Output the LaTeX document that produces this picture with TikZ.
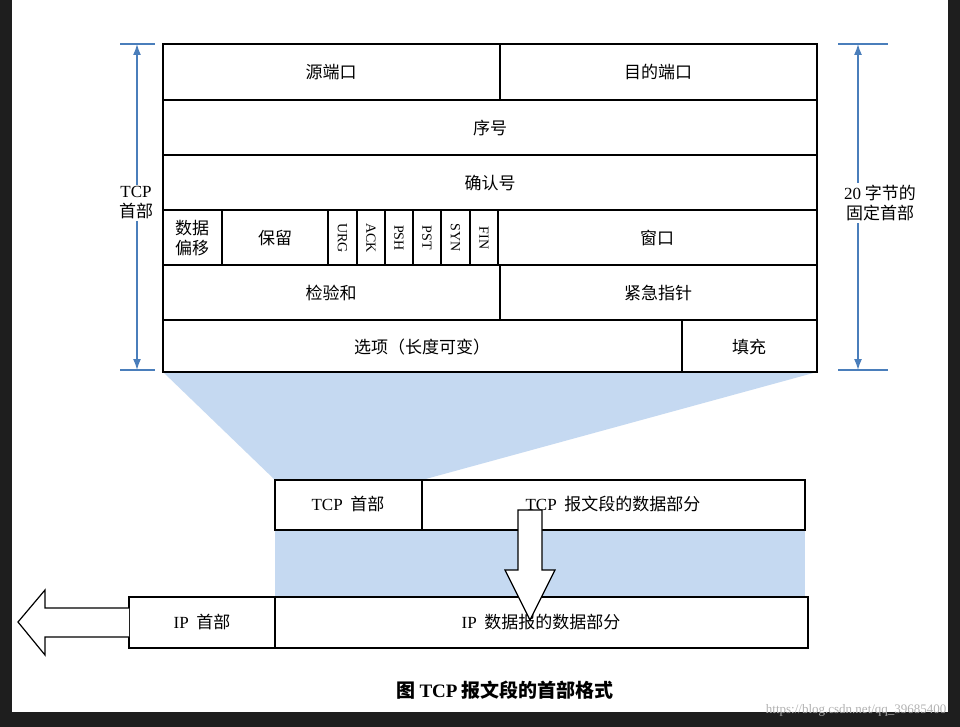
\documentclass[tikz,border=0pt]{standalone}
\usepackage{fontspec}
\usetikzlibrary{arrows.meta}
\setmainfont{Liberation Serif}
\newfontfamily\cjk{Noto Sans CJK SC}
\newcommand{\lat}[1]{{\rmfamily #1}}
\begin{document}
\begin{tikzpicture}[x=1pt,y=-1pt,
  cell/.style={draw=black,line width=1.2pt},
  lbl/.style={font=\cjk\fontsize{17}{20}\selectfont,align=center,inner sep=0},
  flag/.style={font=\fontsize{14}{16}\selectfont,rotate=-90,inner sep=0},
  dim/.style={draw=arrowblue,line width=1.5pt},
  dimtip/.style={dim,-{Latex[length=11pt,width=8pt]}},
  hollow/.style={draw=black,fill=white,line width=1.2pt}]
\definecolor{arrowblue}{HTML}{4A7EBB}
\definecolor{lightblue}{HTML}{C5D9F1}
\definecolor{bgdark}{HTML}{1E1E1E}
\useasboundingbox (0,0) rectangle (960,727);
\fill[bgdark] (0,0) rectangle (960,727);
\fill[white] (12,0) rectangle (948,712);
% blue projections
\fill[lightblue] (163,372) -- (817,372) -- (422,480) -- (275,480) -- cycle;
\fill[lightblue] (275,530) rectangle (805,597);
% table
\draw[cell] (163,44) rectangle (817,372);
\foreach \y in {100,155,210,265,320} \draw[cell] (163,\y) -- (817,\y);
\draw[cell] (500,44) -- (500,100);
\foreach \x in {222,328,357,385,413,441,470,498} \draw[cell] (\x,210) -- (\x,265);
\draw[cell] (500,265) -- (500,320);
\draw[cell] (682,320) -- (682,372);
\node[lbl] (a1) at (331,72) {源端口};
\node[lbl] (a2) at (658,72) {目的端口};
\node[lbl] (b) at (490,128) {序号};
\node[lbl] (c) at (490,183) {确认号};
\node[lbl] (d1) at (192,238) {数据\\偏移};
\node[lbl] (d2) at (275,238) {保留};
\node[flag] (f1) at (342.5,238) {URG};
\node[flag] (f2) at (371,238) {ACK};
\node[flag] (f3) at (399,238) {PSH};
\node[flag] (f4) at (427,238) {PST};
\node[flag] (f5) at (455.5,238) {SYN};
\node[flag] (f6) at (484,238) {FIN};
\node[lbl] (d3) at (657,238) {窗口};
\node[lbl] (e1) at (331,293) {检验和};
\node[lbl] (e2) at (658,293) {紧急指针};
\node[lbl] (g1) at (422,347) {选项（长度可变）};
\node[lbl] (g2) at (749,347) {填充};
% dimension arrows
\coordinate (lt) at (137,44); \coordinate (lb) at (137,370);
\draw[dim] (120,44) -- (155,44); \draw[dim] (120,370) -- (155,370);
\draw[dimtip] (137,203) -- (lt);
\draw[dimtip] (137,203) -- (lb);
\node[lbl,fill=white,inner sep=2pt] (ll) at (136,203) {\lat{TCP}\\首部};
\coordinate (rt) at (858,44); \coordinate (rb) at (858,370);
\draw[dim] (838,44) -- (888,44); \draw[dim] (838,370) -- (888,370);
\draw[dimtip] (858,203) -- (rt);
\draw[dimtip] (858,203) -- (rb);
\node[lbl,fill=white,inner sep=2pt] (rl) at (880,203) {\lat{20} 字节的\\固定首部};
% TCP segment
\draw[cell] (275,480) rectangle (805,530);
\draw[cell] (422,480) -- (422,530);
\node[lbl] (th) at (348,504) {\lat{TCP}\ \ 首部};
\node[lbl] (td) at (613,504) {\lat{TCP}\ \ 报文段的数据部分};
% IP datagram
\draw[cell] (129,597) rectangle (808,648);
\draw[cell] (275,597) -- (275,648);
\node[lbl] (ih) at (202,622) {\lat{IP}\ \ 首部};
\node[lbl] (id) at (541,622) {\lat{IP}\ \ 数据报的数据部分};
% hollow arrows
\draw[hollow] (518,510) -- (542,510) -- (542,570) -- (555,570) -- (530,620) -- (505,570) -- (518,570) -- cycle;
\draw[hollow] (129,608) -- (45,608) -- (45,590) -- (18,622) -- (45,655) -- (45,637) -- (129,637);
\node[font=\cjk\bfseries\fontsize{19}{22}\selectfont] (cap) at (505,690) {图 \lat{\bfseries TCP} 报文段的首部格式};
\node[font=\fontsize{13}{15}\selectfont,text=gray!60,anchor=east] (wm) at (950,710) {https://blog.csdn.net/qq\_39685400};
\end{tikzpicture}
\end{document}
